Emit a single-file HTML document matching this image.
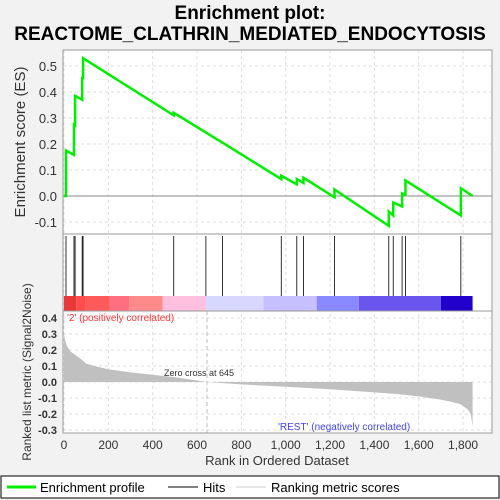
<!DOCTYPE html>
<html><head><meta charset="utf-8"><style>
body{margin:0;background:#f2f2f2;}
svg{display:block;font-family:"Liberation Sans","DejaVu Sans",sans-serif;}
</style></head><body>
<svg id="c" width="500" height="500" viewBox="0 0 500 500">
<text x="250" y="19" text-anchor="middle" font-size="19" font-weight="bold">Enrichment plot:</text>
<text x="250" y="40" text-anchor="middle" font-size="19" font-weight="bold">REACTOME_CLATHRIN_MEDIATED_ENDOCYTOSIS</text>
<rect x="63" y="50" width="429" height="383" fill="#fff"/>
<g id="grid"></g>
<g id="bar"></g>
<g id="hits"></g>
<g id="metric"></g>
<g id="es"></g>
<rect x="63" y="50" width="429" height="184" fill="none" stroke="#999"/>
<rect x="63" y="234" width="429" height="77" fill="none" stroke="#999"/>
<rect x="63" y="311" width="429" height="122" fill="none" stroke="#999"/>
<g id="axes" font-size="13" fill="#333"></g>
<text x="25" y="142" transform="rotate(-90 25 142)" text-anchor="middle" font-size="15" fill="#333">Enrichment score (ES)</text>
<text x="31" y="372" transform="rotate(-90 31 372)" text-anchor="middle" font-size="12" fill="#333">Ranked list metric (Signal2Noise)</text>
<text x="277" y="465" text-anchor="middle" font-size="13" fill="#333">Rank in Ordered Dataset</text>
<text x="67" y="321" font-size="10" fill="#ff3333">'2' (positively correlated)</text>
<text x="278" y="430" font-size="10" fill="#4444ee">'REST' (negatively correlated)</text>
<text x="164" y="376" font-size="9" fill="#333">Zero cross at 645</text>
<g>
<rect x="1" y="476" width="498" height="22" fill="#fff" stroke="#000"/>
<line x1="7" y1="487" x2="36" y2="487" stroke="#00ee00" stroke-width="3"/>
<text x="40" y="492" font-size="13">Enrichment profile</text>
<line x1="168" y1="487" x2="198" y2="487" stroke="#000"/>
<text x="203" y="492" font-size="13">Hits</text>
<line x1="236" y1="487" x2="266" y2="487" stroke="#ccc"/>
<text x="271" y="492" font-size="13">Ranking metric scores</text>
</g>
</svg>
<script>
const hitRanks=[9,45,50,82,86,495,640,715,980,1050,1080,1220,1465,1485,1525,1540,1790];
const esRanks=[0,9,9,45,45,50,50,82,82,86,86,495,495,715,715,980,980,1050,1050,1080,1080,1220,1220,1465,1465,1485,1485,1525,1525,1540,1540,1790,1790,1843];
const esValues=[0,0,0.175,0.158,0.275,0.272,0.385,0.37,0.455,0.455,0.53,0.31,0.32,0.205,0.205,0.065,0.078,0.045,0.065,0.05,0.07,-0.005,0.025,-0.115,-0.06,-0.075,-0.025,-0.04,0.01,0.005,0.06,-0.075,0.03,0.0];
const metricRanks=[0,5,15,30,50,80,100,150,200,300,400,500,645,800,1000,1200,1400,1500,1600,1700,1750,1790,1820,1835,1843];
const metricValues=[0.3,0.26,0.22,0.19,0.17,0.14,0.115,0.095,0.08,0.06,0.045,0.03,0,-0.015,-0.03,-0.045,-0.065,-0.075,-0.09,-0.11,-0.125,-0.14,-0.17,-0.2,-0.28];
const barStarts=[0,55,95,205,295,445,640,900,1140,1330,1700];
const barColors=["#e83838","#ff4d4d","#ff5a5a","#ff6f7f","#ff8a8a","#ffc0e0","#d8d8ff","#c6c0ff","#8888ff","#6a55ee","#2200cc"];
const xTicks=[0,200,400,600,800,1000,1200,1400,1600,1800];
const esTicks=[-0.1,0,0.1,0.2,0.3,0.4,0.5];
const mTicks=[-0.3,-0.2,-0.1,0,0.1,0.2,0.3,0.4];
const N=1843;
const X=r=>64+r*0.2217;
const YE=v=>196-v*260;
const YM=v=>382-v*160;
const NS="http://www.w3.org/2000/svg";
function mk(p,t,a){const e=document.createElementNS(NS,t);for(const k in a)e.setAttribute(k,a[k]);document.getElementById(p).appendChild(e);return e;}
xTicks.forEach(t=>{
 let l=mk('grid','line',{x1:X(t),x2:X(t),y1:50,y2:433,stroke:'#ddd','stroke-dasharray':'3,3'});
 
 
 let tx=mk('axes','text',{x:X(t),y:449,'text-anchor':'middle','font-size':12});
 tx.textContent=t>=1000?(''+t).replace(/(\d)(\d{3})$/,'$1,$2'):t;
 
 
});
esTicks.forEach(t=>{
 let l=mk('grid','line',{x1:63,x2:492,y1:YE(t),y2:YE(t),stroke:t===0?'#888':'#ddd','stroke-dasharray':t===0?'':'3,3'});
 
 
 let tx=mk('axes','text',{x:57,y:YE(t)+5,'text-anchor':'end'});
 tx.textContent=t.toFixed(1);
 
 
});
mTicks.forEach(t=>{
 let l=mk('grid','line',{x1:63,x2:492,y1:YM(t),y2:YM(t),stroke:'#ddd','stroke-dasharray':'3,3'});
 
 
 let tx=mk('axes','text',{x:57,y:YM(t)+4,'text-anchor':'end','font-size':11,'font-weight':'bold'});
 tx.textContent=t.toFixed(1);
 
 
});
let zl=mk('grid','line',{x1:X(645),x2:X(645),y1:311,y2:433,stroke:'#bbb','stroke-dasharray':'4,3'});


barStarts.forEach((s,i)=>{
 const e=i+1<barStarts.length?barStarts[i+1]:N;
 let r=mk('bar','rect',{x:X(s),y:296,width:X(e)-X(s),height:15,fill:barColors[i]});
 
 
});
hitRanks.forEach(h=>{
 let l=mk('hits','line',{x1:X(h),x2:X(h),y1:236,y2:296,stroke:'#000','stroke-width':0.8});
 
 
});
let pts=metricRanks.map((r,i)=>X(r)+','+YM(metricValues[i])).join(' ');
let pg=mk('metric','polygon',{points:X(0)+','+YM(0)+' '+pts+' '+X(N)+','+YM(0),fill:'#c0c0c0'});


let es=mk('es','polyline',{points:esRanks.map((r,i)=>X(r)+','+YE(esValues[i])).join(' '),fill:'none',stroke:'#00ee00','stroke-width':2.5});


</script>
</body></html>
